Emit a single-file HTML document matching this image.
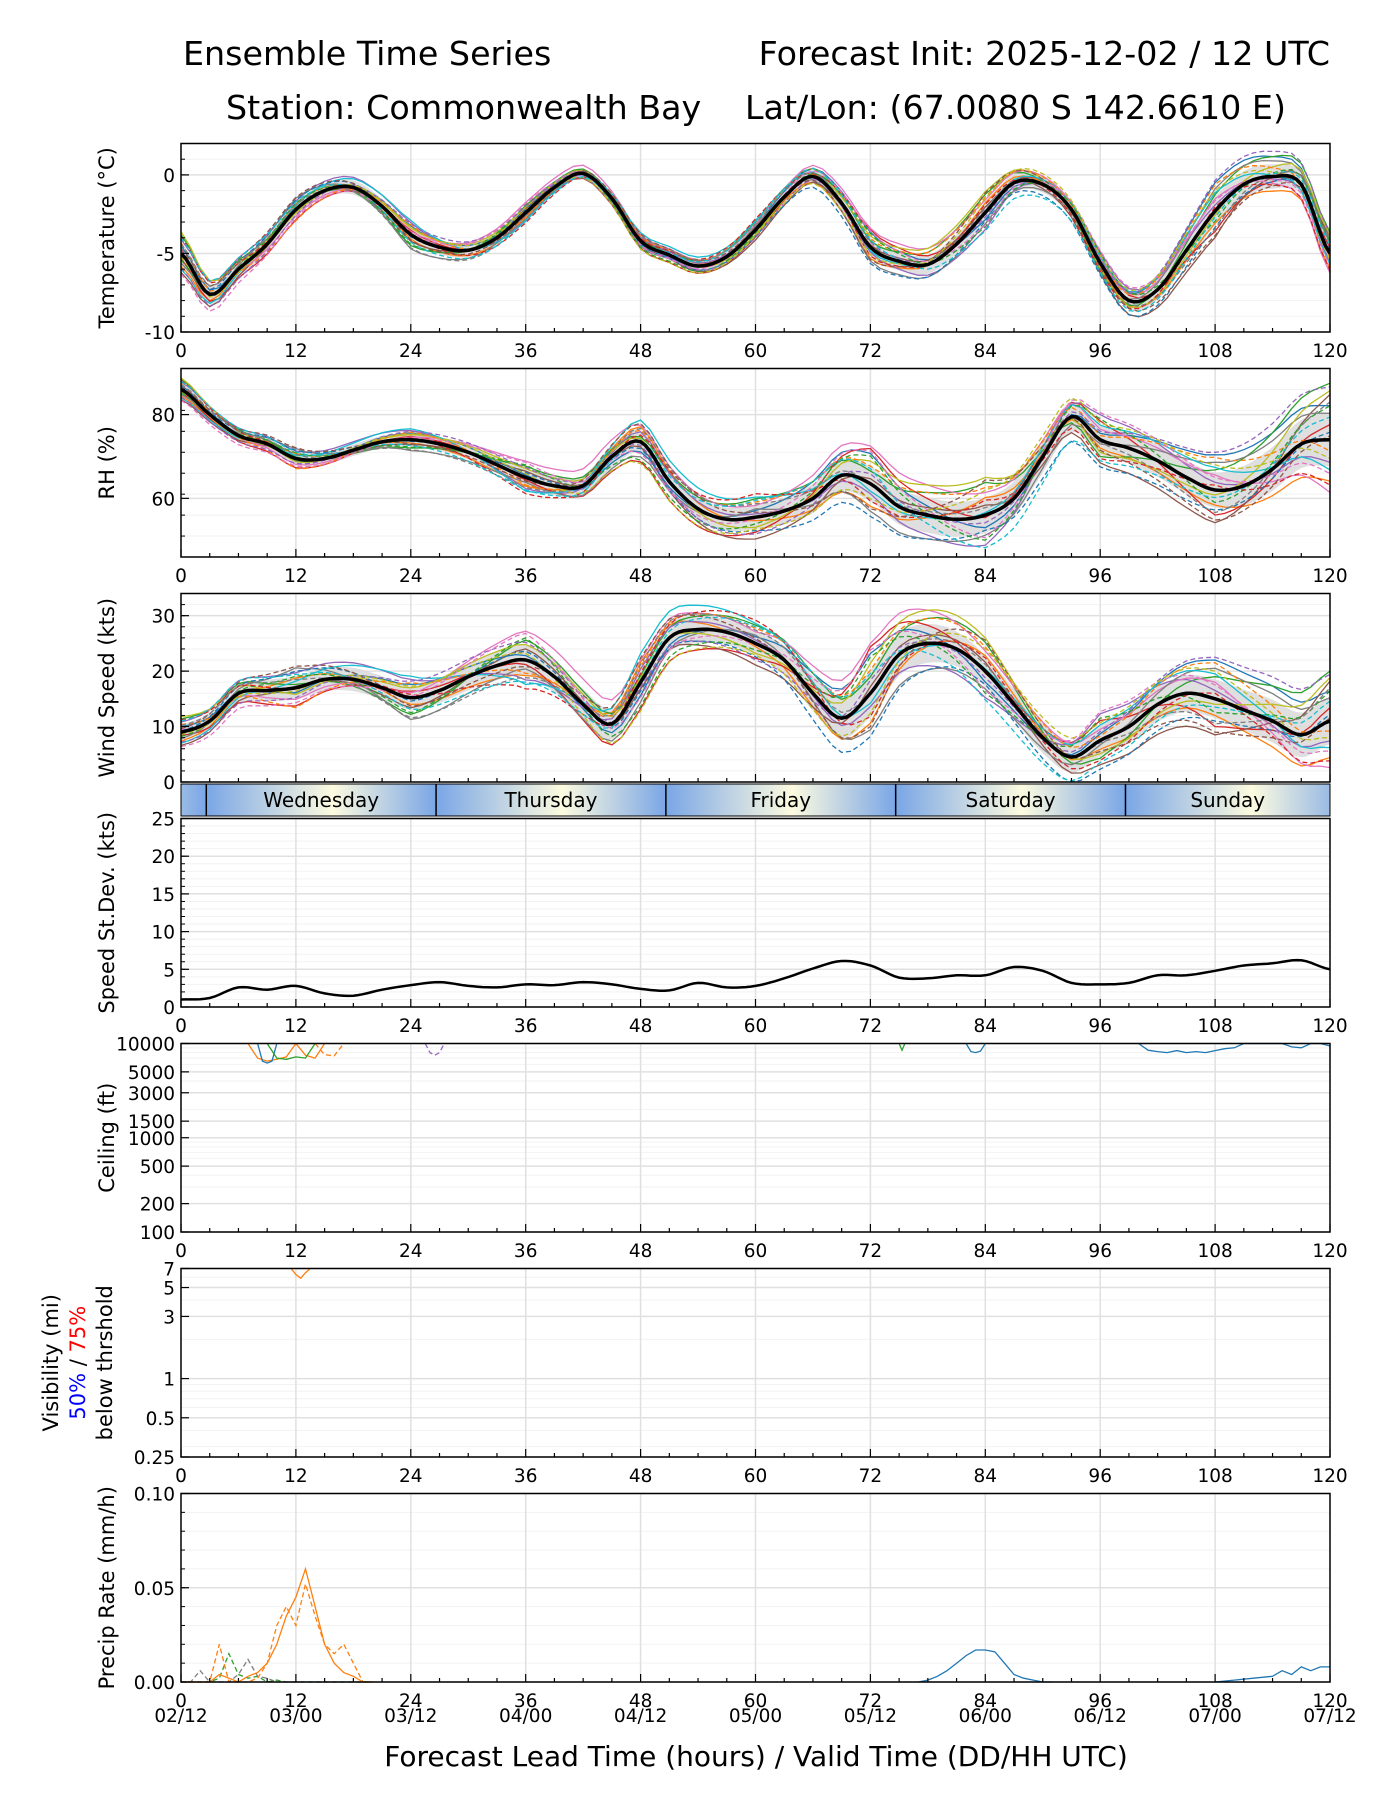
<!DOCTYPE html>
<html><head><meta charset="utf-8"><style>
body{margin:0;background:#fff;}
svg{display:block;font-family:"DejaVu Sans","Liberation Sans",sans-serif;}
</style></head><body>
<svg id="chart" width="1400" height="1800" viewBox="0 0 1400 1800" xmlns="http://www.w3.org/2000/svg">
<text x="183" y="65" font-size="33.3">Ensemble Time Series</text>
<text x="1330" y="65" font-size="33.3" text-anchor="end">Forecast Init: 2025-12-02 / 12 UTC</text>
<text x="226" y="119" font-size="33.3">Station: Commonwealth Bay</text>
<text x="745" y="119" font-size="33.3">Lat/Lon: (67.0080 S 142.6610 E)</text>
<g id="layer"></g>
<text x="756" y="1766" font-size="28" text-anchor="middle">Forecast Lead Time (hours) / Valid Time (DD/HH UTC)</text>
</svg>
<script>
const hours3 = [0,3,6,9,12,15,18,21,24,27,30,33,36,39,42,45,48,51,54,57,60,63,66,69,72,75,78,81,84,87,90,93,96,99,102,105,108,111,114,117,120];
const tempMean = [-5.0,-7.6,-6.0,-4.4,-2.2,-1.0,-0.8,-2.0,-3.8,-4.6,-4.8,-4.0,-2.4,-0.8,0.1,-1.5,-4.2,-5.1,-5.8,-5.2,-3.5,-1.4,-0.1,-1.8,-4.6,-5.5,-5.7,-4.4,-2.4,-0.5,-0.6,-2.2,-5.6,-8.0,-7.3,-4.8,-2.3,-0.6,-0.1,-0.6,-5.0];
const rhMean = [86,80,75,73,69.5,69.5,71.5,73.5,74,73,71,68,65,63,63,70,73.5,64,57.5,55,55.5,57,60,65.5,63.5,58,56,55,56,60,70,79.5,74,72,69,65,62,63,67,73,74];
const windMean = [9,11,16,16.5,17,18.5,18.5,17,15.2,16.5,19,21,22,19,14,10.5,18,26,27.5,27,25,22,16,11.5,16,23,25,24,20,14,8,4.5,7.5,10,14,16,15,13,11,8.5,11];
const sdMean = [1,1.2,2.6,2.3,2.8,1.8,1.5,2.3,2.9,3.3,2.8,2.6,3,2.9,3.3,3,2.4,2.2,3.2,2.6,2.8,3.8,5.1,6.1,5.5,3.9,3.8,4.2,4.2,5.3,4.8,3.2,3,3.2,4.2,4.2,4.8,5.5,5.8,6.2,5];
const nodes12 = [0,12,24,36,48,60,72,84,96,108,120];
const tempSpread = [1.0,0.6,0.7,0.5,0.4,0.5,0.8,0.9,0.6,1.3,0.9];
const rhSpread = [2,2,2,3,4,4,6,6,5,6,9];
const windSpread = [2,3,3,4,4,3,6,4,4,5,6];
const memberOffsets = [
 [0.5,-0.3,0.8,0.2,-0.6,0.4,1.2,-0.5,0.3,1.4,0.9],
 [-0.8,0.6,-0.4,-0.7,0.9,-0.2,-0.9,0.7,-0.4,-0.6,-1.1],
 [1.2,0.2,-1.0,0.9,0.3,1.1,0.5,1.3,-0.8,0.8,1.5],
 [-0.3,-1.1,0.4,-0.2,-1.2,-0.9,1.4,-0.1,0.9,-1.0,0.4],
 [0.9,0.9,1.1,-0.9,0.6,0.2,-0.4,-1.2,1.2,0.3,-0.6],
 [-1.2,0.1,-0.6,0.5,-0.3,-1.3,0.2,0.4,-1.1,-1.3,1.2],
 [0.2,-0.7,0.3,1.3,1.0,0.7,1.5,0.9,0.5,0.6,-1.4],
 [-0.6,1.2,-1.3,-0.4,-0.9,0.5,-1.1,-0.8,-0.2,1.1,0.7],
 [1.4,-0.4,0.6,0.7,0.2,-0.6,0.9,1.5,-0.6,-0.2,1.3],
 [-1.0,0.4,1.3,-1.1,1.3,1.2,-0.3,0.1,0.7,0.9,-0.8],
 [0.1,1.0,-0.2,0.4,-0.4,-0.8,-1.3,-0.6,-1.3,-0.8,0.2],
 [0.7,-1.2,0.9,-0.6,0.7,0.9,0.7,1.1,0.2,1.3,-0.3],
 [-0.4,0.7,-0.9,1.0,-1.1,-0.4,1.1,-1.0,1.0,-0.5,0.9],
 [1.1,-0.1,0.2,-1.3,0.4,1.4,-0.7,0.6,-0.9,0.2,-1.2],
 [-0.9,-0.6,1.0,0.8,-0.2,-1.0,0.4,-0.3,0.4,1.5,1.4],
 [0.3,1.3,-0.5,-0.3,1.1,0.3,-1.0,1.4,-0.5,-1.2,0.1],
 [-1.3,-0.9,0.1,1.2,-0.7,-0.1,1.3,-0.9,1.3,0.5,-0.9],
 [0.6,0.5,-1.2,-0.8,0.8,0.8,0.0,0.3,-0.1,-0.9,1.0],
 [-0.2,-0.2,0.7,0.3,-1.3,-0.7,-0.6,1.0,0.8,1.0,-0.5],
 [1.0,0.8,-0.7,-1.0,0.1,1.0,0.6,-1.3,-1.0,-0.3,0.6]
];
const colors = ['#1f77b4','#ff7f0e','#2ca02c','#d62728','#9467bd','#8c564b','#e377c2','#7f7f7f','#bcbd22','#17becf'];
const precipHours = [0,1,2,3,4,5,6,7,8,9,10,11,12,13,14,15,16,17,18,19,20];
const precipOrange = [0,0,0,0,0.004,0.002,0,0.003,0.005,0.01,0.02,0.035,0.045,0.06,0.04,0.02,0.01,0.005,0.003,0,0];
const precipOrangeDash = [0,0,0,0,0.02,0,0,0,0.002,0.01,0.03,0.04,0.03,0.052,0.035,0.02,0.015,0.02,0.01,0,0];
const precipGreen = [0,0,0,0,0.002,0.015,0.004,0.002,0.003,0,0.001,0,0,0,0,0,0,0,0,0,0];
const precipGray = [0,0,0.006,0,0,0,0.004,0.012,0.003,0.002,0,0,0,0,0,0,0,0,0,0,0];
const precipBlueHours = [77,78,79,80,81,82,83,84,85,86,87,88,89,90,91];
const precipBlue = [0,0.001,0.003,0.006,0.01,0.014,0.017,0.017,0.016,0.01,0.004,0.002,0.001,0,0];
const precipBlue2Hours = [108,110,112,114,115,116,117,118,119,120];
const precipBlue2 = [0,0.001,0.002,0.003,0.006,0.004,0.008,0.006,0.008,0.008];
const ceilSeries = [
 {c:'#ff7f0e',d:false,h:[7,8,9,10,11,12,13,14,15],v:[10000,7000,6500,6800,7200,10000,7500,7000,10000]},
 {c:'#1f77b4',d:false,h:[8,8.5,9,9.5,10],v:[10000,6500,6200,6500,10000]},
 {c:'#2ca02c',d:false,h:[9,10,11,12,13,14],v:[10000,7000,6800,7200,7000,10000]},
 {c:'#ff7f0e',d:true,h:[14,15,16,17],v:[10000,7600,7400,10000]},
 {c:'#9467bd',d:true,h:[25.5,26,26.5,27,27.5],v:[10000,8000,7500,8000,10000]},
 {c:'#2ca02c',d:false,h:[75,75.3,75.6],v:[10000,8500,10000]},
 {c:'#1f77b4',d:false,h:[82,82.5,83,83.5,84],v:[10000,8200,8000,8300,10000]},
 {c:'#1f77b4',d:false,h:[100,101,102,103,104,105,106,107,108,109,110,111,112,113,114,115,116,117,118,119,120],v:[10000,8500,8200,8000,8400,8000,8200,8000,8400,8800,9000,10000,10000,10000,10000,10000,9200,9000,10000,10000,9400]}
];
const visHours = [11.5,12,12.5,13,13.5];
const visOrange = [7,6.3,5.9,6.5,7];
const dayNames = ['Wednesday','Thursday','Friday','Saturday','Sunday'];
const dayStarts = [2.64,26.64,50.64,74.64,98.64];
const dateLabels = ['02/12','03/00','03/12','04/00','04/12','05/00','05/12','06/00','06/12','07/00','07/12'];

const NS='http://www.w3.org/2000/svg';
const layer=document.getElementById('layer');
const X0=181,X1=1330;
const xs=h=>X0+h/120*(X1-X0);
function el(tag,attrs,parent){const e=document.createElementNS(NS,tag);for(const k in attrs)e.setAttribute(k,attrs[k]);(parent||layer).appendChild(e);return e;}
function catmull(arr,h){const t=h/3;let i=Math.floor(t);if(i>=arr.length-1)return arr[arr.length-1];const f=t-i;const p0=arr[Math.max(i-1,0)],p1=arr[i],p2=arr[i+1],p3=arr[Math.min(i+2,arr.length-1)];return 0.5*((2*p1)+(-p0+p2)*f+(2*p0-5*p1+4*p2-p3)*f*f+(-p0+3*p1-3*p2+p3)*f*f*f);}
function lin12(arr,h){const t=h/12;let i=Math.floor(t);if(i>=arr.length-1)return arr[arr.length-1];const f=t-i;return arr[i]*(1-f)+arr[i+1]*f;}

const panels=[
 {key:'temp',top:143.5,bot:332,min:-10,max:2,label:'Temperature (°C)',ticks:[-10,-5,0],minor:1},
 {key:'rh',top:368.5,bot:557,min:46,max:91,label:'RH (%)',ticks:[60,80],minor:5},
 {key:'wind',top:593.5,bot:782,min:0,max:34,label:'Wind Speed (kts)',ticks:[0,10,20,30],minor:2,noX:true},
 {key:'sd',top:818.5,bot:1007,min:0,max:25,label:'Speed St.Dev. (kts)',ticks:[0,5,10,15,20,25],minor:1},
 {key:'ceil',top:1043.5,bot:1232,min:100,max:10000,log:true,label:'Ceiling (ft)',ticks:[100,200,500,1000,1500,3000,5000,10000]},
 {key:'vis',top:1268.5,bot:1457,min:0.25,max:7,log:true,label:'',ticks:[0.25,0.5,1,3,5,7]},
 {key:'precip',top:1493.5,bot:1682,min:0,max:0.1,label:'Precip Rate (mm/h)',ticks:[0,0.05,0.1],minor:0.01,fmt:v=>v.toFixed(2)}
];
function yScale(p){return v=>{if(p.log){const a=Math.log(p.min),b=Math.log(p.max);return p.bot-(Math.log(v)-a)/(b-a)*(p.bot-p.top);}return p.bot-(v-p.min)/(p.max-p.min)*(p.bot-p.top);};}

panels.forEach(p=>{
 const y=yScale(p);p.y=y;
 const g=el('g',{});
 
 
 if(p.minor){for(let v=p.min;v<=p.max+1e-9;v+=p.minor){const yy=y(v);el('line',{x1:X0,x2:X1,y1:yy,y2:yy,stroke:'#f2f2f2','stroke-width':1},g);}}
 if(p.log){const extra=p.key==='ceil'?[300,400,600,700,800,900,2000,4000,6000,7000,8000,9000]:[0.3,0.4,0.6,0.7,0.8,0.9,2,4,6];extra.forEach(v=>{const yy=y(v);el('line',{x1:X0,x2:X1,y1:yy,y2:yy,stroke:'#f2f2f2','stroke-width':1},g);});}
 p.ticks.forEach(v=>{const yy=y(v);el('line',{x1:X0,x2:X1,y1:yy,y2:yy,stroke:'#e0e0e0','stroke-width':1.5},g);});
 for(let h=12;h<120;h+=12){el('line',{x1:xs(h),x2:xs(h),y1:p.top,y2:p.bot,stroke:'#e0e0e0','stroke-width':1.5},g);}
 p.g=g;
});

function pathFrom(pts){return pts.map((q,i)=>(i?'L':'M')+q[0].toFixed(1)+','+q[1].toFixed(1)).join('');}

function drawEnsemble(p,mean,spread){
 const y=p.y;const clip='clip-'+p.key;
 const cp=el('clipPath',{id:clip},p.g);el('rect',{x:X0,y:p.top,width:X1-X0,height:p.bot-p.top},cp);
 const up=[],lo=[];
 for(let h=0;h<=120;h+=0.5){const m=catmull(mean,h),s=lin12(spread,h)*0.7;up.push([xs(h),y(m+s)]);lo.push([xs(h),y(m-s)]);}
 const band=el('path',{d:pathFrom(up.concat(lo.reverse()))+'Z',fill:'#d9d9d9',opacity:0.85,'clip-path':'url(#'+clip+')'},p.g);
 
 
 memberOffsets.forEach((off,k)=>{
  const pts=[];
  for(let h=0;h<=120;h+=1){pts.push([xs(h),y(catmull(mean,h)+lin12(off,h)*lin12(spread,h))]);}
  const ln=el('path',{d:pathFrom(pts),fill:'none',stroke:colors[k%10],'stroke-width':1.3,'stroke-dasharray':k>=10?'5,3':'none','clip-path':'url(#'+clip+')'},p.g);
  
  
 });
 const pts=[];for(let h=0;h<=120;h+=0.5)pts.push([xs(h),y(catmull(mean,h))]);
 const mn=el('path',{d:pathFrom(pts),fill:'none',stroke:'#000','stroke-width':3.5,'clip-path':'url(#'+clip+')'},p.g);
 
 
}
drawEnsemble(panels[0],tempMean,tempSpread);
drawEnsemble(panels[1],rhMean,rhSpread);
drawEnsemble(panels[2],windMean,windSpread);
(function(){const p=panels[3];const pts=[];for(let h=0;h<=120;h+=0.5)pts.push([xs(h),p.y(catmull(sdMean,h))]);
 const l=el('path',{d:pathFrom(pts),fill:'none',stroke:'#000','stroke-width':2.5},p.g);
 
 })();
ceilSeries.forEach((s,i)=>{const p=panels[4];const pts=s.h.map((h,j)=>[xs(h),p.y(s.v[j])]);
 const l=el('path',{d:pathFrom(pts),fill:'none',stroke:s.c,'stroke-width':1.3,'stroke-dasharray':s.d?'5,3':'none'},p.g);
 
 });
(function(){const p=panels[5];const pts=visHours.map((h,j)=>[xs(h),p.y(visOrange[j])]);
 const l=el('path',{d:pathFrom(pts),fill:'none',stroke:'#ff7f0e','stroke-width':1.3},p.g);
 
 })();
function precipLine(hs,vals,c,dash,name){const p=panels[6];const pts=hs.map((h,j)=>[xs(h),p.y(vals[j])]);
 const l=el('path',{d:pathFrom(pts),fill:'none',stroke:c,'stroke-width':1.3,'stroke-dasharray':dash?'5,3':'none'},p.g);
 
 }
precipLine(precipHours,precipGreen,'#2ca02c',true,'precip-green');
precipLine(precipHours,precipGray,'#7f7f7f',true,'precip-gray');
precipLine(precipHours,precipOrangeDash,'#ff7f0e',true,'precip-orange-dashed');
precipLine(precipHours,precipOrange,'#ff7f0e',false,'precip-orange');
precipLine(precipBlueHours,precipBlue,'#1f77b4',false,'precip-blue');
precipLine(precipBlue2Hours,precipBlue2,'#1f77b4',false,'precip-blue-late');

panels.forEach((p,pi)=>{
 const g=p.g;
 const fr=el('rect',{x:X0,y:p.top,width:X1-X0,height:p.bot-p.top,fill:'none',stroke:'#000','stroke-width':1.5},g);
 
 
 for(let h=0;h<=120;h+=3){const major=h%12===0;const L=major?8:4;
  el('line',{x1:xs(h),x2:xs(h),y1:p.bot,y2:p.bot-L,stroke:'#000','stroke-width':1.2},g);}
 if(!p.noX){for(let h=0;h<=120;h+=12){const t=el('text',{x:xs(h),y:p.bot+25,'font-size':18.5,'text-anchor':'middle'},g);t.textContent=h;
  
  }}
 if(p.minor){for(let v=p.min;v<=p.max+1e-9;v+=p.minor){const yy=p.y(v);el('line',{x1:X0,x2:X0+4,y1:yy,y2:yy,stroke:'#000'},g);}}
 p.ticks.forEach(v=>{const yy=p.y(v);el('line',{x1:X0,x2:X0+8,y1:yy,y2:yy,stroke:'#000','stroke-width':1.2},g);
  const t=el('text',{x:X0-6,y:yy+7,'font-size':18.5,'text-anchor':'end'},g);t.textContent=p.fmt?p.fmt(v):v;
  
  });
 if(p.label){const cy=(p.top+p.bot)/2;const t=el('text',{x:0,y:0,'font-size':21,'text-anchor':'middle',transform:'translate(114,'+cy+') rotate(-90)'},g);t.textContent=p.label;
  
  }
});
(function(){const cy=(1268.5+1457)/2;const g=el('g',{transform:'translate(0,'+cy+') rotate(-90)'});
 
 
 const t1=el('text',{x:0,y:58,'font-size':21,'text-anchor':'middle'},g);t1.textContent='Visibility (mi)';
 const t2=el('text',{x:0,y:85,'font-size':21,'text-anchor':'middle'},g);
 const a=el('tspan',{fill:'#0000ff'},t2);a.textContent='50%';const b=el('tspan',{fill:'#000'},t2);b.textContent=' / ';const c=el('tspan',{fill:'#ff0000'},t2);c.textContent='75%';
 const t3=el('text',{x:0,y:112,'font-size':21,'text-anchor':'middle'},g);t3.textContent='below thrshold';})();
dateLabels.forEach((d,i)=>{const t=el('text',{x:xs(i*12),y:1722,'font-size':18.5,'text-anchor':'middle'});t.textContent=d;
 
 });
(function(){const top=784,h=32;const g=el('g',{});
 
 
 const bounds=[-21.36].concat(dayStarts).concat([122.64]);
 for(let i=0;i<bounds.length-1;i++){const a=bounds[i],b=bounds[i+1];
  const x1=Math.max(xs(a),X0),x2=Math.min(xs(b),X1);
  const gid='dg'+i;const lg=el('linearGradient',{id:gid,gradientUnits:'userSpaceOnUse',x1:xs(a),x2:xs(b),y1:0,y2:0},g);
  el('stop',{offset:0,'stop-color':'#7aa6e6'},lg);el('stop',{offset:0.55,'stop-color':'#fdfbe0'},lg);el('stop',{offset:1,'stop-color':'#7aa6e6'},lg);
  el('rect',{x:x1,y:top,width:x2-x1,height:h,fill:'url(#'+gid+')'},g);}
 dayStarts.forEach((s,i)=>{el('line',{x1:xs(s),x2:xs(s),y1:top,y2:top+h,stroke:'#000','stroke-width':1.5},g);
  const t=el('text',{x:(xs(s)+Math.min(xs(s+24),X1))/2,y:top+23,'font-size':20,'text-anchor':'middle'},g);t.textContent=dayNames[i];
  
  });
 el('rect',{x:X0,y:top,width:X1-X0,height:h,fill:'none',stroke:'#000','stroke-width':1},g);})();
</script>
</body></html>
